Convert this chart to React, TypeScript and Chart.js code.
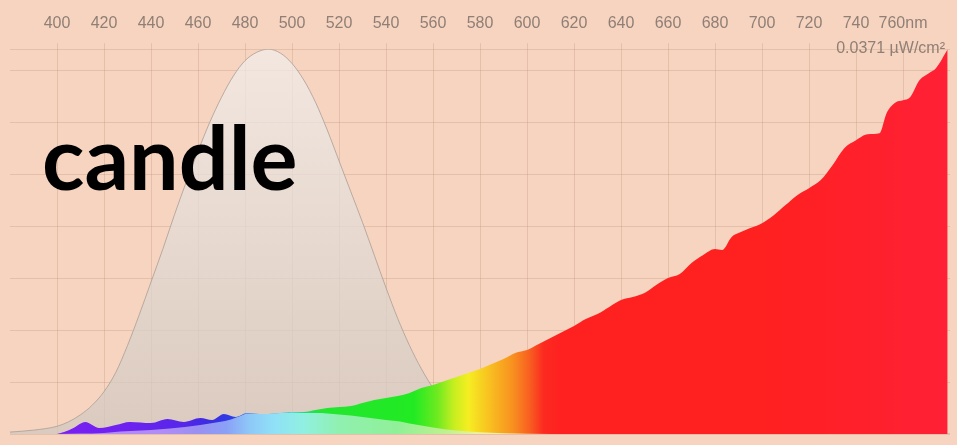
import { useEffect, useRef } from "react";
import { Chart, registerables } from "chart.js";

Chart.register(...registerables);

// ---- data ----
const titleText = "candle";
const unitText = "0.0371 µW/cm²";
const yMax = 0.0371;
const xTickLabels = [400, 420, 440, 460, 480, 500, 520, 540, 560, 580, 600, 620, 640, 660, 680, 700, 720, 740, 760];

// measured candle spectrum (µW/cm² per nm)
const specNm = [400, 403, 407, 412, 418, 425, 431, 440, 447, 454, 461, 466, 471, 476, 481, 486, 490, 495, 500, 505, 510, 515, 520, 525, 530, 535, 540, 545, 550, 555, 560, 565, 570, 575, 580, 585, 590, 595, 600, 605, 610, 615, 620, 625, 630, 635, 640, 645, 650, 655, 660, 665, 670, 675, 680, 683, 687, 690, 695, 700, 705, 710, 715, 720, 725, 730, 735, 740, 745, 750, 753, 757, 760, 763, 767, 771, 774, 779];
const specVal = [0, 0.00019, 0.00058, 0.00116, 0.00058, 0.00087, 0.00116, 0.00106, 0.00145, 0.00116, 0.00154, 0.00135, 0.00193, 0.00164, 0.00202, 0.00193, 0.00193, 0.00202, 0.00212, 0.00212, 0.00231, 0.00251, 0.0026, 0.0027, 0.00299, 0.00328, 0.00347, 0.00366, 0.00395, 0.00443, 0.00472, 0.00511, 0.00549, 0.00588, 0.00626, 0.00675, 0.00723, 0.00781, 0.00809, 0.00867, 0.00925, 0.00983, 0.01041, 0.01108, 0.01156, 0.01224, 0.01291, 0.0132, 0.01359, 0.01436, 0.01503, 0.01542, 0.01648, 0.01725, 0.01783, 0.01773, 0.01898, 0.01937, 0.01985, 0.02033, 0.0211, 0.02207, 0.02303, 0.0237, 0.02448, 0.02592, 0.02756, 0.02833, 0.02891, 0.029, 0.03093, 0.03199, 0.03218, 0.03247, 0.03411, 0.03479, 0.03527, 0.0371];

// melanopic-weighted spectrum
const paleNm = [400, 410, 420, 427, 440, 448, 461, 469, 474, 478, 481, 486, 490, 495, 500, 505, 510, 515, 520, 525, 530, 540, 546, 550, 560, 570, 580, 590, 600, 620];
const paleVal = [0, 0.00004, 0.0001, 0.00024, 0.00039, 0.00053, 0.00087, 0.00116, 0.0014, 0.00173, 0.00198, 0.00193, 0.00193, 0.00202, 0.00207, 0.00202, 0.00202, 0.00198, 0.00188, 0.00178, 0.00164, 0.00135, 0.0012, 0.00101, 0.00063, 0.00034, 0.00017, 0.00008, 0.00003, 0];

// relative melanopic sensitivity
const bellNm = [380, 390, 400, 405, 410, 415, 420, 425, 430, 435, 440, 445, 450, 455, 460, 465, 470, 475, 480, 485, 490, 495, 500, 505, 510, 515, 520, 525, 530, 535, 540, 545, 550, 555, 560, 565, 570, 575, 580, 590, 600, 620, 650, 780];
const bellVal = [0.005, 0.01, 0.02, 0.032, 0.05, 0.075, 0.11, 0.16, 0.23, 0.31, 0.395, 0.48, 0.57, 0.655, 0.735, 0.81, 0.875, 0.93, 0.97, 0.992, 1.0, 0.99, 0.963, 0.92, 0.862, 0.79, 0.71, 0.63, 0.55, 0.465, 0.38, 0.3, 0.23, 0.17, 0.12, 0.085, 0.06, 0.04, 0.027, 0.012, 0.005, 0.001, 0, 0];

// ---- styles ----
const BG = "#f7d4bf";
const TEXT_GRAY = "#8f7f76";
const GRID = "rgba(175,135,115,0.26)";
const specStops: [number, string][] = [
  [400, "#7b1ff2"], [430, "#6d22f0"], [455, "#5526ea"], [465, "#3a2de0"], [475, "#2f3fe6"],
  [490, "#2f9af0"], [503, "#22d890"], [512, "#22e630"], [552, "#22ea22"], [562, "#70ea20"],
  [569, "#c8ee20"], [575, "#f5ee22"], [584, "#f8c020"], [594, "#f89020"], [601, "#f86020"],
  [607, "#fc2a20"], [615, "#ff2020"], [700, "#ff2020"], [780, "#ff2036"],
];
const paleStops: [number, string][] = [
  [400, "#b58af5"], [445, "#b08cf5"], [460, "#9a90f2"], [472, "#8aa0f6"], [482, "#8ec8f8"],
  [492, "#90e0f8"], [505, "#90f0e0"], [520, "#90f0b0"], [545, "#90f098"], [565, "#c0f090"],
  [580, "#f0f0a0"], [600, "#f8e8b0"],
];

function hGradient(chart: any, stops: [number, string][]) {
  const { ctx, chartArea, scales } = chart;
  if (!chartArea) return "rgba(0,0,0,0)";
  const x0 = scales.x.getPixelForValue(380);
  const x1 = scales.x.getPixelForValue(780);
  const g = ctx.createLinearGradient(x0, 0, x1, 0);
  for (const [nm, c] of stops) g.addColorStop((nm - 380) / 400, c);
  return g;
}

function bellGradient(chart: any) {
  const { ctx, chartArea } = chart;
  if (!chartArea) return "rgba(0,0,0,0)";
  const g = ctx.createLinearGradient(0, chartArea.top, 0, chartArea.bottom);
  g.addColorStop(0, "rgba(241,238,236,0.72)");
  g.addColorStop(1, "rgba(208,199,191,0.72)");
  return g;
}

const bgPlugin = {
  id: "bgfill",
  beforeDraw(chart: any) {
    const { ctx, width, height } = chart;
    ctx.save();
    ctx.fillStyle = BG;
    ctx.fillRect(0, 0, width, height);
    ctx.restore();
  },
};

const textPlugin = {
  id: "texts",
  afterDatasetsDraw(chart: any) {
    const { ctx, chartArea } = chart;
    ctx.save();
    ctx.fillStyle = "#000";
    ctx.font = "bold 88px Lato";
    ctx.textAlign = "left";
    ctx.textBaseline = "alphabetic";
    ctx.fillText(titleText, 42, 190);
    ctx.fillStyle = TEXT_GRAY;
    ctx.font = "16px 'Liberation Sans', Arial, sans-serif";
    ctx.textAlign = "right";
    ctx.textBaseline = "middle";
    ctx.fillText(unitText, chartArea.right - 5, chartArea.top - 1);
    ctx.restore();
  },
};

export default function App() {
  const ref = useRef<HTMLCanvasElement | null>(null);
  useEffect(() => {
    document.body.style.margin = "0";
    document.body.style.background = BG;
    const canvas = ref.current;
    if (!canvas) return;
    const chart = new Chart(canvas, {
      type: "line",
      data: {
        datasets: [
          {
            label: "weighted",
            data: paleNm.map((x, i) => ({ x, y: paleVal[i] })),
            yAxisID: "y",
            fill: "origin",
            borderWidth: 0,
            pointRadius: 0,
            cubicInterpolationMode: "monotone",
            backgroundColor: (c: any) => hGradient(c.chart, paleStops),
            borderColor: "rgba(0,0,0,0)",
          },
          {
            label: "spectrum",
            data: specNm.map((x, i) => ({ x, y: specVal[i] })),
            yAxisID: "y",
            fill: "origin",
            borderWidth: 0,
            pointRadius: 0,
            cubicInterpolationMode: "monotone",
            backgroundColor: (c: any) => hGradient(c.chart, specStops),
            borderColor: "rgba(0,0,0,0)",
          },
          {
            label: "melanopic",
            data: bellNm.map((x, i) => ({ x, y: bellVal[i] })),
            yAxisID: "y2",
            fill: "origin",
            borderWidth: 1,
            pointRadius: 0,
            cubicInterpolationMode: "monotone",
            backgroundColor: (c: any) => bellGradient(c.chart),
            borderColor: "rgba(170,158,150,0.8)",
          },
        ],
      } as any,
      options: {
        animation: false,
        responsive: false,
        layout: { padding: { top: 4, left: 10, right: 7, bottom: 11 } },
        plugins: { legend: { display: false }, tooltip: { enabled: false } },
        scales: {
          x: {
            type: "linear",
            position: "top",
            min: 380,
            max: 780,
            afterBuildTicks: (scale: any) => {
              scale.ticks = xTickLabels.map((v) => ({ value: v }));
            },
            ticks: {
              stepSize: 20,
              autoSkip: false,
              maxRotation: 0,
              padding: 10,
              color: TEXT_GRAY,
              font: { size: 16, family: "'Liberation Sans', Arial, sans-serif" },
              callback: (v: any) => (v === 760 ? "760nm" : String(v)),
            },
            grid: { color: GRID, tickLength: 6, drawTicks: true },
            border: { display: false },
          },
          y: {
            min: 0,
            max: yMax,
            ticks: { display: false, stepSize: 0.005 },
            grid: { color: GRID, drawTicks: false },
            border: { display: false },
          },
          y2: { display: false, min: 0, max: 1 },
        },
      } as any,
      plugins: [bgPlugin, textPlugin],
    });
    return () => chart.destroy();
  }, []);
  return <canvas ref={ref} width={957} height={445} style={{ display: "block" }} />;
}
